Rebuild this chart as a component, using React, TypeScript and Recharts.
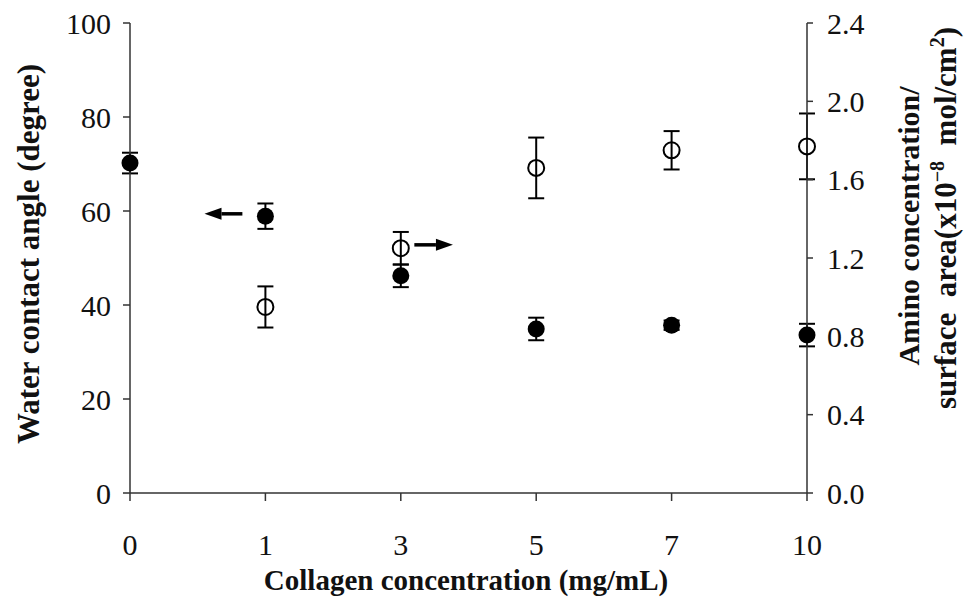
import React from "react";
import {
  ScatterChart,
  Scatter,
  XAxis,
  YAxis,
  ErrorBar,
  ReferenceLine,
  Label,
} from "recharts";

// collagen concentration (mg/mL), evenly spaced categories
const categories = ["0", "1", "3", "5", "7", "10"];

// water contact angle (degree), filled circles, left axis
const angleIdx = [0, 1, 2, 3, 4, 5];
const angleValues = [70.2, 58.9, 46.2, 34.9, 35.7, 33.6];
const angleErrors = [2.2, 2.7, 2.4, 2.4, 1.0, 2.4];

// amino concentration / surface area (x10^-8 mol/cm^2), open circles, right axis
const aminoIdx = [1, 2, 3, 4, 5];
const aminoValues = [0.95, 1.25, 1.66, 1.75, 1.77];
const aminoErrors = [0.105, 0.083, 0.155, 0.098, 0.168];

const leftTicks = [0, 20, 40, 60, 80, 100];
const rightTicks = [0, 0.4, 0.8, 1.2, 1.6, 2.0, 2.4];

const angleData = angleIdx.map((idx, i) => ({
  idx,
  val: angleValues[i],
  err: angleErrors[i],
}));
const aminoData = aminoIdx.map((idx, i) => ({
  idx,
  val: aminoValues[i],
  err: aminoErrors[i],
}));

const FONT = "'Liberation Serif', 'Times New Roman', serif";
const AXIS = "#333";
const NB = "\u00a0";

const FilledDot = (props: any) => (
  <circle cx={props.cx} cy={props.cy} r={8.5} fill="#000" />
);
const OpenDot = (props: any) => (
  <circle cx={props.cx} cy={props.cy} r={8} fill="none" stroke="#000" strokeWidth={2} />
);

// line with a filled triangular head at (x2, y2)
const Arrow = (props: any) => {
  const { x1, y1, x2, y2 } = props;
  const dir = x2 > x1 ? 1 : -1;
  const head = 17;
  const half = 6;
  return (
    <g>
      <line x1={x1} y1={y1} x2={x2 - dir * head} y2={y2} stroke="#000" strokeWidth={3.5} />
      <polygon
        points={`${x2},${y2} ${x2 - dir * head},${y2 - half} ${x2 - dir * head},${y2 + half}`}
        fill="#000"
      />
    </g>
  );
};

export default function App() {
  return (
    <div style={{ position: "absolute", left: 0, top: 0, background: "#fff" }}>
      <ScatterChart
        width={967}
        height={602}
        margin={{ top: 23, right: 0, bottom: 0, left: 0 }}
        style={{ fontFamily: FONT }}
      >
        <XAxis
          type="number"
          dataKey="idx"
          domain={[0, 5]}
          ticks={[0, 1, 2, 3, 4, 5]}
          tickFormatter={(i: number) => categories[i]}
          height={109}
          tickSize={8}
          tickMargin={33}
          stroke={AXIS}
          strokeWidth={1.5}
          tick={{ fill: "#111", fontSize: 30, fontFamily: FONT }}
        >
          <Label
            content={() => (
              <text
                x={466}
                y={590}
                textAnchor="middle"
                fontFamily={FONT}
                fontWeight="bold"
                fontSize={29}
                fill="#111"
              >
                Collagen concentration (mg/mL)
              </text>
            )}
          />
        </XAxis>
        <YAxis
          yAxisId="left"
          type="number"
          dataKey="val"
          domain={[0, 100]}
          ticks={leftTicks}
          width={130}
          tickSize={7}
          tickMargin={12}
          stroke={AXIS}
          strokeWidth={1.5}
          tick={{ fill: "#111", fontSize: 30, fontFamily: FONT }}
        >
          <Label
            content={() => (
              <text
                x={39}
                y={254}
                transform="rotate(-90 39 254)"
                textAnchor="middle"
                fontFamily={FONT}
                fontWeight="bold"
                fontSize={31}
                fill="#111"
              >
                Water contact angle (degree)
              </text>
            )}
          />
        </YAxis>
        <YAxis
          yAxisId="right"
          orientation="right"
          type="number"
          dataKey="val"
          domain={[0, 2.4]}
          ticks={rightTicks}
          tickFormatter={(v: number) => v.toFixed(1)}
          width={160}
          tickSize={6}
          tickMargin={14}
          stroke={AXIS}
          strokeWidth={1.5}
          tick={{ fill: "#111", fontSize: 30, fontFamily: FONT }}
        >
          <Label
            content={() => (
              <g fontFamily={FONT} fontWeight="bold" fill="#111">
                <text
                  x={919}
                  y={226}
                  transform="rotate(-90 919 226)"
                  textAnchor="middle"
                  fontSize={30}
                >
                  {"Amino concentration/"}
                </text>
                <text
                  x={956}
                  y={218}
                  transform="rotate(-90 956 218)"
                  textAnchor="middle"
                  fontSize={31}
                >
                  {`surface${NB}${NB}area(x10`}
                  <tspan dy={-12} fontSize={20}>−8</tspan>
                  <tspan dy={12}>{`${NB}${NB}mol/cm`}</tspan>
                  <tspan dy={-12} fontSize={20}>2</tspan>
                  <tspan dy={12}>)</tspan>
                </text>
              </g>
            )}
          />
        </YAxis>

        <Scatter
          yAxisId="right"
          data={aminoData}
          shape={OpenDot}
          isAnimationActive={false}
        >
          <ErrorBar dataKey="err" direction="y" width={8} stroke="#000" strokeWidth={2} />
        </Scatter>
        <Scatter
          yAxisId="left"
          data={angleData}
          shape={FilledDot}
          isAnimationActive={false}
        >
          <ErrorBar dataKey="err" direction="y" width={8} stroke="#000" strokeWidth={2} />
        </Scatter>

        <ReferenceLine
          yAxisId="left"
          segment={[
            { x: 0.83, y: 59.4 },
            { x: 0.55, y: 59.4 },
          ]}
          shape={Arrow}
          ifOverflow="visible"
        />
        <ReferenceLine
          yAxisId="left"
          segment={[
            { x: 2.1, y: 52.8 },
            { x: 2.385, y: 52.8 },
          ]}
          shape={Arrow}
          ifOverflow="visible"
        />
      </ScatterChart>
    </div>
  );
}
